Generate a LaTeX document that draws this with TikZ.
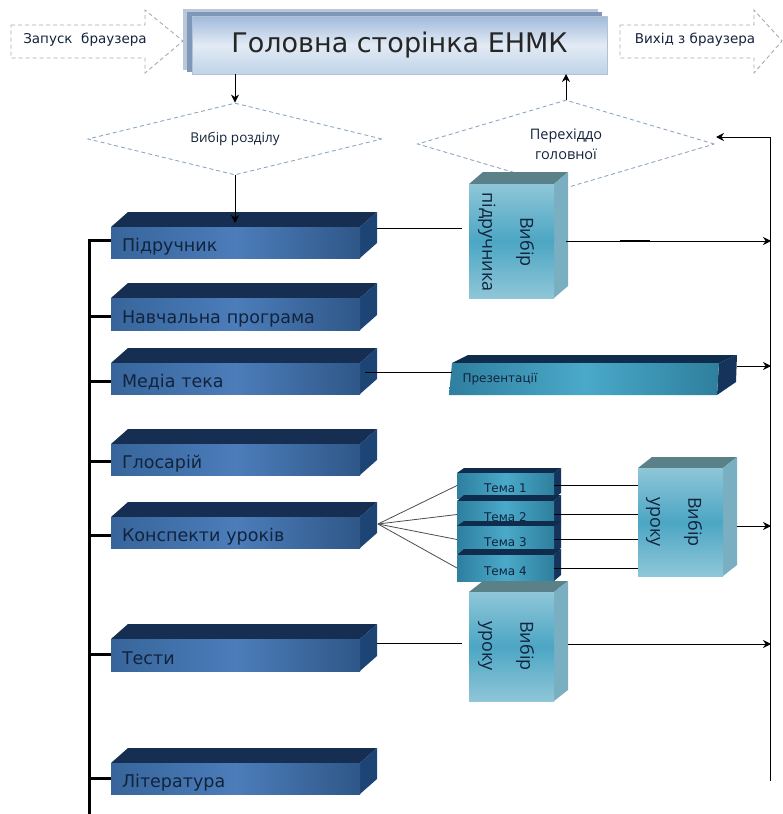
\documentclass[tikz,border=0pt]{standalone}
\usepackage{fontspec}
\setmainfont{DejaVu Sans}
\newfontfamily\opensans{Open Sans}
\usetikzlibrary{arrows.meta,shapes.geometric}
\definecolor{bluetopc}{HTML}{152E52}
\definecolor{bluesidec}{HTML}{1C4475}
\definecolor{blueL}{HTML}{37659B}
\definecolor{blueM}{HTML}{4C7DBA}
\definecolor{blueR}{HTML}{2F5788}
\definecolor{tealL}{HTML}{2F7F9F}
\definecolor{tealM}{HTML}{4AA9C9}
\definecolor{tealR}{HTML}{2E7F9D}
\definecolor{tealtopc}{HTML}{0F2C4C}
\definecolor{tealsidec}{HTML}{15345C}
\definecolor{cubeE}{HTML}{8FC6D8}
\definecolor{cubeM}{HTML}{4CA6C4}
\definecolor{cubetopc}{HTML}{5A8088}
\definecolor{cubesidec}{HTML}{79AFC1}
\definecolor{dashc}{HTML}{8FA6C4}
\definecolor{dashg}{HTML}{A3ABB3}
\definecolor{inkc}{HTML}{12233C}
\definecolor{mainT}{HTML}{A0B9DA}
\definecolor{mainM}{HTML}{E2EBF5}
\definecolor{mainB}{HTML}{C0D3E8}
\definecolor{layerA}{HTML}{BAC7D9}
\definecolor{layerB}{HTML}{7F97B8}
\tikzset{
  blue front/.style={shade,left color=blueL,right color=blueR,middle color=blueM,font=\fontsize{17.5}{20}\selectfont,text=inkc,align=left,text height=18pt,text depth=0pt},
  blue top/.style={fill=bluetopc},
  blue side/.style={fill=bluesidec},
  teal front/.style={shade,left color=tealL,right color=tealR,middle color=tealM,font=\fontsize{12}{14}\selectfont,text=inkc,align=center,text height=14pt,text depth=0pt},
  teal top/.style={fill=tealtopc},
  teal side/.style={fill=tealsidec},
  cube front/.style={shade,top color=cubeE,bottom color=cubeE,middle color=cubeM},
  cube top/.style={fill=cubetopc},
  cube side/.style={fill=cubesidec},
  cubetext/.style={rotate=-90,align=center,text=inkc,font=\opensans\fontsize{18}{38}\selectfont},
  dashdiamond/.style={diamond,draw=dashc,dash pattern=on 4pt off 3pt,line width=0.9pt,inner sep=0pt,align=center,text=inkc,font=\opensans\fontsize{#1}{20}\selectfont},
  dasharrow/.style={draw=dashg,dash pattern=on 4pt off 3pt,line width=0.9pt},
  arrowtext/.style={text=inkc,font=\fontsize{#1}{16}\selectfont},
  conn/.style={draw=black,line width=0.8pt},
  connarrow/.style={conn,-{Stealth[length=8pt,width=8pt]}},
  spine/.style={draw=black,line width=3pt},
}
% name, x0, x1, front top, front bottom, dx, dy, family, text
\newcommand{\solidbox}[9]{%
  \pgfmathsetmacro{\bw}{#3-#2}\pgfmathsetmacro{\bh}{#5-#4}\pgfmathsetmacro{\tw}{#3-#2-22}%
  \fill[#8 top] (#2,#4) -- ({#2+#6},{#4-#7}) -- ({#3+#6},{#4-#7}) -- (#3,#4) -- cycle;
  \fill[#8 side] (#3,#4) -- ({#3+#6},{#4-#7}) -- ({#3+#6},{#5-#7}) -- (#3,#5) -- cycle;
  \node[#8 front,anchor=north west,inner xsep=11pt,inner ysep=0pt,outer sep=0pt,minimum width=\bw pt,minimum height=\bh pt,text width=\tw pt] (#1) at (#2,#4) {#9};
}
\begin{document}
\begin{tikzpicture}[x=1pt,y=-1pt]
\useasboundingbox (0,0) rectangle (782,814);
% main page
\fill[layerA] (183,9) rectangle (598,70);
\fill[layerB] (187,12) rectangle (602,72);
\node[shade,top color=mainT,bottom color=mainB,middle color=mainM,draw=layerB!60,line width=0.4pt,anchor=north west,minimum width=415pt,minimum height=58pt,inner sep=0pt,outer sep=0pt,text=black!85,font=\fontsize{27}{32}\selectfont] (main) at (192,16) {Головна сторінка ЕНМК};
% browser arrows
\draw[dasharrow] (11,25) -- (145,25) -- (145,10) -- (183,41) -- (145,73) -- (145,58) -- (11,58) -- cycle;
\node[arrowtext=13.5] (start) at (85,40) {Запуск\ \ браузера};
\draw[dasharrow] (620,25) -- (754,25) -- (754,10) -- (782,41) -- (754,73) -- (754,58) -- (620,58) -- cycle;
\node[arrowtext=13.5] (quit) at (695,40) {Вихід з браузера};
% decisions
\node[dashdiamond=13.5,aspect=4.08,minimum width=294pt,minimum height=72pt] (choose) at (235,139) {Вибір розділу};
\node[dashdiamond=14.5,aspect=3.4,minimum width=297pt,minimum height=88pt] (home) at (566,144) {Перехіддо\\головної};
% section boxes
\solidbox{pidr}{111}{360}{227}{258}{17}{15}{blue}{Підручник}
\solidbox{prog}{111}{360}{298}{330}{17}{15}{blue}{Навчальна програма}
\solidbox{media}{111}{360}{363}{394}{17}{15}{blue}{Медіа тека}
\solidbox{gloss}{111}{360}{444}{475}{17}{15}{blue}{Глосарій}
\solidbox{kons}{111}{360}{517}{548}{17}{15}{blue}{Конспекти уроків}
\solidbox{tests}{111}{360}{639}{671}{17}{15}{blue}{Тести}
\solidbox{lit}{111}{360}{763}{794}{17}{15}{blue}{Література}
% spine
\coordinate (spineTop) at (89,240);
\coordinate (spineEnd) at (89,814);
\draw[spine,line cap=butt] (pidr.west |- spineTop) -- (spineTop) -- (spineEnd);
\foreach \n/\yy in {prog/316,media/381,gloss/461,kons/535,tests/654,lit/778}{
  \draw[spine] (89,\yy) -- (\n.west |- 0,\yy);
}
% cubes
\solidbox{cubeA}{469}{554}{184}{298}{14}{12}{cube}{}
\node[cubetext] (cubeAt) at (506,242) {Вибір\\підручника};
\solidbox{cubeB}{638}{723}{468}{576}{14}{11}{cube}{}
\node[cubetext] (cubeBt) at (674,522) {Вибір\\уроку};
% presentation
\fill[teal top] (452,363) -- (468,355) -- (737,355) -- (719,363) -- cycle;
\fill[teal side] (719,363) -- (737,355) -- (736,382) -- (717,395) -- cycle;
\shade[left color=tealL,right color=tealR,middle color=tealM] (452,363) -- (719,363) -- (717,395) -- (449,395) -- cycle;
\node[text=inkc,font=\fontsize{12}{14}\selectfont,anchor=west] (pres) at (459,379) {Презентації};
% themes
\solidbox{t1}{457}{554}{473}{498}{7}{5}{teal}{Тема 1}
\solidbox{t2}{457}{554}{501}{528}{7}{6}{teal}{Тема 2}
\solidbox{t3}{457}{554}{526}{553}{7}{5}{teal}{Тема 3}
\solidbox{t4}{457}{554}{555}{581}{7}{6}{teal}{Тема 4}
\solidbox{cubeC}{469}{554}{592}{701}{14}{11}{cube}{}
\node[cubetext] (cubeCt) at (506,646) {Вибір\\уроку};
% right collector
\coordinate (busBottom) at (770,781);
\coordinate (busTop) at (770,137);
\coordinate (homeIn) at (716,137);
\draw[conn] (busBottom) -- (busTop);
\draw[connarrow] (busTop) -- (homeIn);
% connectors
\draw[connarrow] (main.south -| choose.north) -- (choose.north);
\coordinate (pidrTopIn) at (235,223);
\draw[connarrow] (choose.south) -- (pidrTopIn);
\draw[connarrow] (home.north) -- (home.north |- main.south);
\coordinate (pidrOut) at (377,228);
\coordinate (cubeAIn) at (462,228);
\draw[conn] (pidrOut) -- (cubeAIn);
\coordinate (cubeAOut) at (566,241);
\coordinate (cubeABus) at (771,241);
\draw[connarrow] (cubeAOut) -- (cubeABus);
\coordinate (markL) at (620,241);
\coordinate (markR) at (650,241);
\draw[draw=black,line width=1.3pt] (markL) -- (markR);
\coordinate (mediaOut) at (365,372);
\coordinate (presIn) at (452,372);
\draw[conn] (mediaOut) -- (presIn);
\coordinate (presOut) at (737,366);
\coordinate (presBus) at (771,366);
\draw[connarrow] (presOut) -- (presBus);
\coordinate (fan) at (378,524);
\foreach \t in {t1,t2,t3,t4}{
  \draw[conn,draw=black!70] (fan) -- (\t.west);
  \draw[conn] (\t.east) -- (\t.east -| cubeB.west);
}
\coordinate (cubeBOut) at (737,526);
\coordinate (cubeBBus) at (771,526);
\draw[connarrow] (cubeBOut) -- (cubeBBus);
\coordinate (testsOut) at (377,643);
\coordinate (cubeCIn) at (462,643);
\draw[conn] (testsOut) -- (cubeCIn);
\coordinate (cubeCOut) at (568,644);
\coordinate (cubeCBus) at (771,644);
\draw[connarrow] (cubeCOut) -- (cubeCBus);
\end{tikzpicture}
\end{document}
